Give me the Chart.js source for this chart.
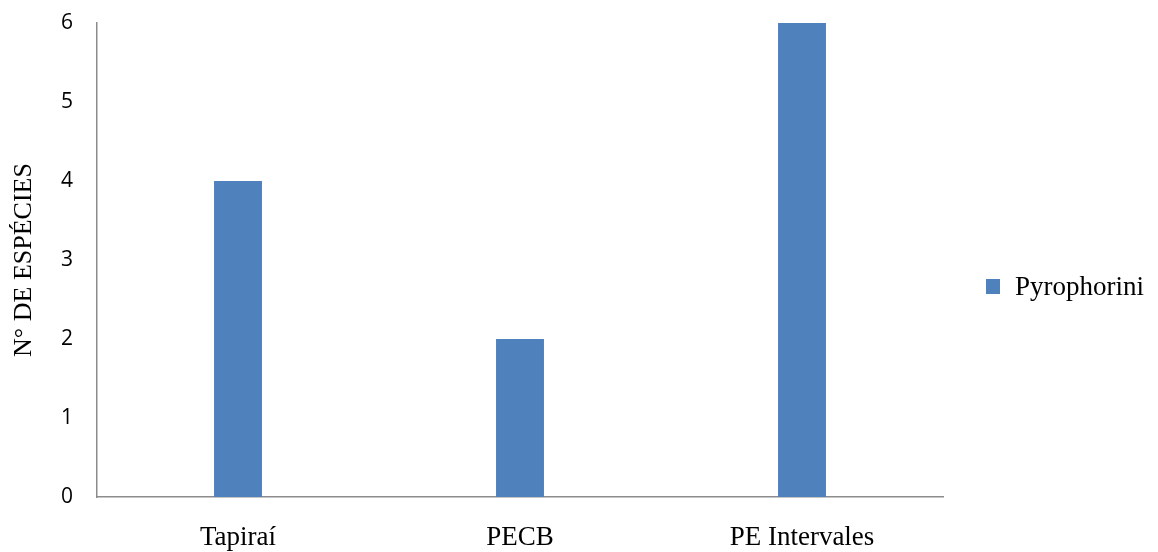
<!DOCTYPE html>
<html>
<head>
<meta charset="utf-8">
<script src="https://cdn.jsdelivr.net/npm/chart.js@4/dist/chart.umd.min.js"></script>
<style>
  html, body { margin: 0; padding: 0; background: #fff; }
  #wrap { width: 1158px; height: 552px; }
</style>
</head>
<body>
<div id="wrap"><canvas id="chart" width="1158" height="552"></canvas></div>
<script>
const categories = ['Tapiraí', 'PECB', 'PE Intervales']
const seriesName = 'Pyrophorini'
const speciesCount = [4, 2, 6]
const yTicks = [0, 1, 2, 3, 4, 5, 6]

const barColor = '#4f81bd'
const axisColor = '#8c8c8c'
const serif = "'Liberation Serif', 'Times New Roman', serif"
const sans = "'Open Sans', 'Liberation Sans', sans-serif"

// legend on the right, vertically centred on the canvas
const sideLegend = {
    id: 'sideLegend',
    afterDraw(chart) {
        const { ctx } = chart
        const ds = chart.data.datasets[0]
        const midY = 287
        ctx.save()
        ctx.fillStyle = ds.backgroundColor
        ctx.fillRect(986, midY - 8, 14, 15)
        ctx.fillStyle = '#000'
        ctx.font = `27px ${serif}`
        ctx.textBaseline = 'middle'
        ctx.fillText(ds.label, 1015, midY + 1)
        ctx.restore()
    }
}

new Chart(document.querySelector('#chart'), {
    type: 'bar',
    data: {
        labels: categories,
        datasets: [{
            label: seriesName,
            data: speciesCount,
            backgroundColor: barColor,
            barPercentage: 0.17,
            categoryPercentage: 1
        }]
    },
    options: {
        responsive: false,
        animation: false,
        layout: { padding: { top: 23, right: 215, left: 0, bottom: 0 } },
        plugins: {
            legend: { display: false },
            tooltip: { enabled: false }
        },
        scales: {
            x: {
                grid: { display: false, drawTicks: false },
                border: { color: axisColor, width: 1.5 },
                ticks: { color: '#000', font: { family: serif, size: 27 }, padding: 25 },
                afterFit: (scale) => { scale.height = 55 }
            },
            y: {
                min: 0,
                max: 6,
                afterBuildTicks: (scale) => { scale.ticks = yTicks.map(v => ({ value: v })) },
                grid: { display: false, drawTicks: false },
                border: { color: axisColor, width: 1.5 },
                ticks: { color: '#000', font: { family: sans, size: 21 }, padding: 24 },
                title: {
                    display: true,
                    text: 'N° DE ESPÉCIES',
                    color: '#000',
                    font: { family: serif, size: 26 },
                    padding: { top: 9, bottom: 0 }
                },
                afterFit: (scale) => {
                    scale.width = 97
                    scale.paddingTop = 0
                    scale.paddingBottom = 0
                }
            }
        }
    },
    plugins: [sideLegend]
})
</script>
</body>
</html>
